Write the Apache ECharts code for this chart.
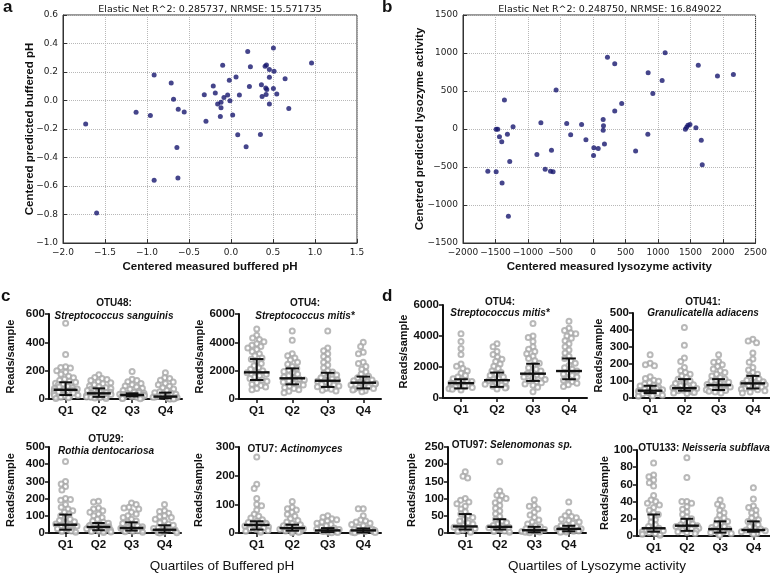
<!DOCTYPE html>
<html>
<head>
<meta charset="utf-8">
<script src="https://cdn.jsdelivr.net/npm/echarts@6/dist/echarts.min.js"></script>
<style>
  html, body { margin: 0; padding: 0; background: #fff; }
  #chart { width: 770px; height: 575px; }
</style>
</head>
<body>
<div id="chart"></div>
<script>
// ---- panel a: buffered pH ----
const phMeasured = [-1.73, -1.60, -1.13, -0.96, -0.915, -0.915, -0.712, -0.684, -0.644, -0.628, -0.632, -0.557,
  -0.318, -0.298, -0.211, -0.187, -0.159, -0.127, -0.119, -0.119, -0.099, -0.084, -0.04, -0.02, -0.012, 0.02,
  0.06, 0.08, 0.10, 0.18, 0.199, 0.219, 0.231, 0.35, 0.362, 0.37, 0.406, 0.422, 0.414, 0.426, 0.418, 0.457,
  0.457, 0.457, 0.505, 0.513, 0.505, 0.545, 0.644, 0.688, 0.959];
const phPredicted = [-0.165, -0.79, -0.083, -0.106, 0.179, -0.559, 0.123, 0.009, -0.33, -0.061, -0.544, -0.08,
  0.04, -0.146, 0.101, 0.052, -0.024, -0.113, -0.012, -0.05, 0.248, 0.021, 0.038, 0.142, -0.002, -0.101,
  0.165, -0.24, 0.038, -0.325, 0.344, 0.099, 0.236, -0.238, 0.111, 0.028, 0.241, 0.25, 0.087, 0.078, 0.042, 0.217,
  0.163, -0.024, 0.368, 0.205, 0.085, 0.045, 0.153, -0.057, 0.264];

// ---- panel b: lysozyme activity ----
const lysoMeasured = [-1618, -1490, -1465, -1490, -1439, -1404, -1399, -1363, -1317, -1281, -1302, -1230,
  -863, -802, -736, -654, -639, -614, -568, -405, -344, -176, -109, 13, 8, 80, 156, 161, 156, 176, 222, 334,
  334, 441, 655, 848, 843, 920, 1063, 1109, 1420, 1440, 1460, 1491, 1583, 1619, 1665, 1680, 1914, 2159];
const lysoPredicted = [-556, -2, -2, -564, -103, -169, -709, 380, -68, -428, -1148, 29,
  -336, 81, -529, -556, -279, -564, 512, 73, -77, 59, -143, -248, -349, -257, 124, 42, -16, -196, 943, 859,
  236, 336, -288, 739, -68, 468, 637, 1003, -2, 24, 49, 59, 15, 838, -147, -472, 696, 718];

const quartiles = ['Q1', 'Q2', 'Q3', 'Q4'];

// ---- panel c: reads/sample by quartile of buffered pH ----
const otu48Reads = [
  [535, 315, 228, 222, 218, 200, 188, 175, 160, 150, 140, 132, 125, 118, 112, 106, 100, 95, 90, 85, 80, 75, 70, 66, 62, 58, 54, 50, 46, 42, 38, 34, 30, 27, 24, 20, 16, 12, 8, 4],
  [172, 152, 145, 138, 130, 122, 115, 108, 100, 92, 86, 80, 75, 70, 65, 60, 56, 52, 48, 44, 41, 38, 35, 32, 29, 26, 23, 20, 17, 15, 12, 10, 7, 4],
  [195, 140, 130, 122, 110, 100, 92, 84, 76, 68, 60, 54, 48, 44, 40, 37, 34, 31, 29, 27, 25, 23, 21, 19, 18, 16, 14, 12, 10, 8, 6, 4, 2],
  [185, 150, 145, 132, 120, 110, 100, 90, 80, 70, 60, 52, 45, 40, 34, 29, 25, 21, 18, 16, 14, 12, 10, 8, 6, 5, 4, 3, 2, 1, 0, 0]
];
const otu48Median = [65, 40, 28, 17];
const otu48Low = [28, 15, 18, 5];
const otu48High = [118, 75, 40, 45];

const otu4PhReads = [
  [4950, 4500, 4300, 4200, 4050, 3900, 3800, 3700, 3600, 3500, 3350, 3200, 3050, 2900, 2800, 2650, 2500, 2350, 2200, 2100, 2000, 1900, 1850, 1750, 1650, 1550, 1450, 1350, 1250, 1150, 1050, 950, 850, 750, 650],
  [4800, 4150, 3200, 3050, 2900, 2750, 2600, 2450, 2300, 2150, 2050, 1950, 1850, 1750, 1650, 1550, 1480, 1420, 1350, 1280, 1200, 1120, 1050, 980, 900, 820, 740, 650, 550, 450],
  [4800, 3600, 3400, 3200, 3000, 2800, 2600, 2400, 2200, 2000, 1900, 1800, 1700, 1600, 1500, 1420, 1350, 1300, 1250, 1180, 1100, 1050, 980, 920, 860, 800, 740, 680, 620, 560],
  [4000, 3700, 3300, 3200, 2600, 2500, 2300, 2100, 1900, 1750, 1600, 1500, 1420, 1350, 1280, 1200, 1150, 1100, 1050, 980, 920, 860, 800, 750, 700, 640, 580, 520]
];
const otu4PhMedian = [1880, 1460, 1290, 1150];
const otu4PhLow = [1340, 1035, 850, 750];
const otu4PhHigh = [2820, 2160, 1850, 1580];

const otu29Reads = [
  [415, 300, 285, 270, 250, 200, 195, 190, 165, 150, 140, 130, 120, 110, 100, 90, 80, 72, 65, 58, 52, 48, 44, 40, 36, 32, 28, 24, 20, 16, 12, 8, 4],
  [185, 180, 145, 140, 130, 120, 110, 100, 90, 80, 70, 62, 56, 50, 45, 40, 36, 33, 30, 27, 24, 21, 18, 15, 12, 9, 6, 3],
  [175, 165, 150, 145, 140, 120, 110, 100, 90, 80, 70, 62, 55, 48, 42, 36, 31, 28, 25, 22, 19, 16, 13, 10, 7, 4],
  [165, 130, 125, 115, 100, 95, 90, 80, 70, 60, 52, 45, 38, 32, 26, 21, 18, 15, 12, 9, 6, 3, 1, 0]
];
const otu29Median = [48, 35, 29, 19];
const otu29Low = [19, 16, 14, 2];
const otu29High = [107, 58, 62, 45];

const otu7Reads = [
  [265, 170, 155, 120, 100, 95, 80, 65, 58, 52, 46, 41, 37, 34, 31, 28, 26, 24, 21, 18, 15, 12, 9, 6, 3],
  [110, 90, 85, 80, 72, 65, 58, 50, 44, 38, 33, 29, 25, 22, 19, 17, 15, 13, 11, 9, 7, 5, 3, 1],
  [60, 55, 50, 46, 42, 38, 34, 30, 25, 20, 17, 14, 12, 10, 9, 8, 6, 5, 4, 3, 2, 1],
  [85, 85, 60, 45, 42, 38, 34, 30, 25, 20, 16, 13, 11, 9, 8, 6, 5, 4, 3, 2, 1]
];
const otu7Median = [28, 17, 9, 9];
const otu7Low = [12, 8, 3, 2];
const otu7High = [41, 29, 17, 16];

// ---- panel d: reads/sample by quartile of lysozyme activity ----
const otu4LysoReads = [
  [4150, 3650, 3200, 2800, 2200, 2050, 1900, 1750, 1600, 1450, 1350, 1250, 1180, 1120, 1060, 1000, 960, 920, 880, 840, 800, 760, 720, 680, 640, 600, 560, 520],
  [3500, 3300, 3000, 2800, 2650, 2500, 2350, 2200, 2050, 1900, 1750, 1640, 1550, 1450, 1350, 1250, 1180, 1120, 1060, 1000, 940, 880, 820, 760, 700, 640, 580],
  [4800, 4000, 3900, 3650, 3300, 3150, 3000, 2850, 2700, 2550, 2400, 2250, 2100, 1950, 1850, 1750, 1650, 1580, 1500, 1420, 1350, 1280, 1200, 1120, 1050, 980, 900, 820, 700, 400],
  [4950, 4500, 4350, 4200, 4150, 4000, 3850, 3700, 3500, 3300, 3100, 2900, 2700, 2550, 2400, 2250, 2100, 1950, 1850, 1750, 1650, 1550, 1450, 1350, 1250, 1150, 1050, 950, 850, 750]
];
const otu4LysoMedian = [960, 1150, 1570, 1740];
const otu4LysoLow = [620, 720, 1100, 1210];
const otu4LysoHigh = [1210, 1640, 2210, 2550];

const otu41Reads = [
  [255, 205, 195, 190, 125, 115, 105, 98, 90, 82, 75, 70, 65, 60, 56, 52, 48, 45, 42, 40, 37, 34, 31, 28, 25, 22, 19, 16, 13, 10],
  [415, 310, 235, 215, 180, 160, 150, 140, 130, 120, 110, 100, 92, 85, 78, 72, 66, 60, 56, 52, 48, 45, 42, 39, 36, 33, 30, 26],
  [255, 215, 210, 195, 185, 170, 160, 150, 140, 130, 120, 112, 105, 98, 92, 86, 80, 76, 72, 68, 64, 60, 56, 52, 48, 44, 40, 35, 30],
  [345, 335, 325, 265, 230, 210, 180, 165, 150, 140, 130, 120, 112, 104, 96, 90, 86, 82, 78, 74, 70, 65, 60, 56, 52, 48, 42, 36, 30]
];
const otu41Median = [43, 58, 76, 86];
const otu41Low = [29, 43, 47, 56];
const otu41High = [72, 111, 111, 130];

const otu97Reads = [
  [178, 165, 160, 100, 95, 90, 85, 78, 70, 62, 55, 50, 45, 40, 35, 30, 26, 22, 19, 17, 15, 13, 11, 10, 8, 6, 4, 2],
  [207, 122, 110, 108, 100, 95, 88, 80, 72, 64, 56, 48, 40, 35, 30, 26, 22, 19, 17, 15, 13, 11, 10, 8, 6, 4, 2],
  [97, 80, 78, 70, 60, 52, 45, 38, 32, 26, 21, 18, 15, 12, 10, 8, 6, 5, 4, 3, 2, 1],
  [90, 60, 50, 48, 44, 40, 36, 32, 28, 24, 21, 18, 15, 13, 12, 10, 8, 6, 5, 4, 3, 2]
];
const otu97Median = [19, 18, 8, 12];
const otu97Low = [10, 10, 2, 5];
const otu97High = [55, 40, 18, 21];

const otu133Reads = [
  [85, 71, 69, 65, 62, 58, 47, 42, 40, 38, 36, 33, 30, 27, 25, 22, 19, 16, 13, 11, 9, 8, 7, 6, 5, 4, 3, 2, 1],
  [91, 68, 40, 40, 38, 34, 31, 28, 25, 22, 20, 18, 16, 14, 13, 12, 11, 10, 9, 8, 7, 6, 5, 4, 3],
  [42, 37, 35, 30, 27, 24, 21, 19, 17, 15, 13, 11, 10, 9, 8, 7, 6, 5, 4, 3, 2, 1],
  [56, 43, 35, 33, 30, 27, 24, 21, 19, 17, 15, 13, 11, 9, 8, 7, 6, 5, 5, 4, 3, 2]
];
const otu133Median = [9, 12, 8, 7];
const otu133Low = [5, 6, 4, 5];
const otu133High = [25, 20, 17, 17];

// ---------------------------------------------------------------
const ARIAL = '"Liberation Sans", Arial, sans-serif';
const MPL = '"DejaVu Sans", sans-serif';

const grids = [], xAxes = [], yAxes = [], series = [], texts = [];

const minus = (s) => s.replace('-', '\u2212');

function scatterPanel(rect, xs, ys, xr, yr, xName, yName, yGap, fmtX, fmtY) {
  const gi = grids.length;
  grids.push(Object.assign({ show: true, borderColor: '#333', borderWidth: 1, backgroundColor: '#fff' }, rect));
  const common = {
    gridIndex: gi,
    type: 'value',
    axisLine: { show: true, onZero: false, lineStyle: { color: '#333', width: 1 } },
    axisTick: { show: true, inside: true, length: 4, lineStyle: { color: '#333' } },
    splitLine: { show: true, lineStyle: { color: '#b8b8b8', type: 'dotted', width: 1 } },
    nameTextStyle: { fontFamily: ARIAL, fontWeight: 'bold', fontSize: 11.5, color: '#111' },
    nameLocation: 'middle',
    nameMoveOverlap: false
  };
  xAxes.push(Object.assign({}, common, {
    min: xr[0], max: xr[1], interval: xr[2],
    axisLabel: { fontFamily: MPL, fontSize: 9, color: '#222', margin: 5, formatter: fmtX },
    name: xName, nameGap: 18
  }));
  yAxes.push(Object.assign({}, common, {
    min: yr[0], max: yr[1], interval: yr[2],
    axisLabel: { fontFamily: MPL, fontSize: 9, color: '#222', margin: 5, formatter: fmtY },
    name: yName, nameGap: yGap, nameRotate: 90
  }));
  series.push({
    type: 'scatter', xAxisIndex: gi, yAxisIndex: gi,
    symbolSize: 5,
    itemStyle: { color: '#16166e' },
    data: xs.map((x, i) => [x, ys[i]])
  });
}

function renderErrorBar(params, api) {
  const cat = api.value(0);
  const m = api.coord([cat, api.value(1)]);
  const lo = api.coord([cat, api.value(2)]);
  const hi = api.coord([cat, api.value(3)]);
  const band = api.size([1, 0])[0];
  const mw = band * 0.36, cw = band * 0.19;
  const st = { stroke: '#111', lineWidth: 2 };
  return {
    type: 'group',
    children: [
      { type: 'line', shape: { x1: lo[0], y1: lo[1], x2: hi[0], y2: hi[1] }, style: st },
      { type: 'line', shape: { x1: m[0] - mw, y1: m[1], x2: m[0] + mw, y2: m[1] }, style: { stroke: '#111', lineWidth: 2.4 } },
      { type: 'line', shape: { x1: lo[0] - cw, y1: lo[1], x2: lo[0] + cw, y2: lo[1] }, style: st },
      { type: 'line', shape: { x1: hi[0] - cw, y1: hi[1], x2: hi[0] + cw, y2: hi[1] }, style: st }
    ]
  };
}

function dotPanel(rect, yMax, yStep, reads, med, low, high, nameGap) {
  const gi = grids.length;
  grids.push(rect);
  xAxes.push({
    gridIndex: gi, type: 'category', data: quartiles,
    jitter: 25, jitterOverlap: false, jitterMargin: 0,
    axisLine: { show: true, lineStyle: { color: '#111', width: 2 } },
    axisTick: { show: true, alignWithLabel: true, length: 4, lineStyle: { color: '#111', width: 1.5 } },
    axisLabel: { fontFamily: ARIAL, fontWeight: 'bold', fontSize: 11.5, color: '#111', margin: 6 },
    splitLine: { show: false }
  });
  yAxes.push({
    gridIndex: gi, type: 'value', min: 0, max: yMax, interval: yStep,
    axisLine: { show: true, lineStyle: { color: '#111', width: 2 } },
    axisTick: { show: true, length: 4, lineStyle: { color: '#111', width: 1.5 } },
    axisLabel: { fontFamily: ARIAL, fontWeight: 'bold', fontSize: 11.5, color: '#111', margin: 4, formatter: v => String(v) },
    splitLine: { show: false },
    name: 'Reads/sample', nameLocation: 'middle', nameRotate: 90, nameGap: nameGap, nameMoveOverlap: false,
    nameTextStyle: { fontFamily: ARIAL, fontWeight: 'bold', fontSize: 11, color: '#111' }
  });
  const pts = [];
  reads.forEach((grp, qi) => grp.forEach(v => pts.push([qi, v])));
  series.push({
    type: 'scatter', xAxisIndex: gi, yAxisIndex: gi,
    symbol: 'emptyCircle', symbolSize: 5,
    itemStyle: { color: '#a8a8a8', borderWidth: 1 },
    clip: false,
    data: pts
  });
  series.push({
    type: 'custom', xAxisIndex: gi, yAxisIndex: gi, z: 5,
    renderItem: renderErrorBar,
    encode: { x: 0, y: [1, 2, 3] },
    data: med.map((m, qi) => [qi, m, low[qi], high[qi]])
  });
}

function addText(x, y, text, font, align) {
  texts.push({
    type: 'text', x: x, y: y, z: 100,
    style: {
      text: text, font: font, fill: '#111',
      align: align || 'center', verticalAlign: 'middle',
      textAlign: align || 'center', textVerticalAlign: 'middle'
    }
  });
}
function addRich(x, y, parts) {
  texts.push({
    type: 'text', x: x, y: y, z: 100,
    style: {
      text: '{a|' + parts[0] + '}{b|' + parts[1] + '}',
      align: 'center', verticalAlign: 'middle',
      textAlign: 'center', textVerticalAlign: 'middle',
      rich: {
        a: { fontFamily: ARIAL, fontWeight: 'bold', fontSize: 10, fill: '#111', color: '#111' },
        b: { fontFamily: ARIAL, fontWeight: 'bold', fontStyle: 'italic', fontSize: 10, fill: '#111', color: '#111' }
      }
    }
  });
}

// top scatter panels
scatterPanel({ left: 63, top: 15, width: 294, height: 228 }, phMeasured, phPredicted,
  [-2, 1.5, 0.5], [-1, 0.6, 0.2],
  'Centered measured buffered pH', 'Centered predicted buffered pH', 27,
  v => minus(v.toFixed(1)), v => minus(v.toFixed(1)));
scatterPanel({ left: 463, top: 15, width: 295, height: 228 }, lysoMeasured, lysoPredicted,
  [-2000, 2500, 500], [-1500, 1500, 500],
  'Centered measured lysozyme activity', 'Cenetred predicted lysozyme activity', 37,
  v => minus(String(v)), v => minus(String(v)));

// bottom dot panels
dotPanel({ left: 49, top: 314, width: 133, height: 85 }, 600, 200, otu48Reads, otu48Median, otu48Low, otu48High, 33);
dotPanel({ left: 239, top: 314, width: 142, height: 85 }, 6000, 2000, otu4PhReads, otu4PhMedian, otu4PhLow, otu4PhHigh, 34);
dotPanel({ left: 443, top: 305, width: 144, height: 93 }, 6000, 2000, otu4LysoReads, otu4LysoMedian, otu4LysoLow, otu4LysoHigh, 34);
dotPanel({ left: 633, top: 313, width: 142, height: 85 }, 500, 100, otu41Reads, otu41Median, otu41Low, otu41High, 29);
dotPanel({ left: 49, top: 447, width: 132, height: 86 }, 500, 100, otu29Reads, otu29Median, otu29Low, otu29High, 33);
dotPanel({ left: 239, top: 447, width: 142, height: 86 }, 300, 100, otu7Reads, otu7Median, otu7Low, otu7High, 35);
dotPanel({ left: 448, top: 447, width: 138, height: 86 }, 250, 50, otu97Reads, otu97Median, otu97Low, otu97High, 31);
dotPanel({ left: 637, top: 450, width: 140, height: 86 }, 100, 20, otu133Reads, otu133Median, otu133Low, otu133High, 27);

// titles and labels
const mplTitle = '9.5px ' + MPL;
addText(210, 10, 'Elastic Net R^2: 0.285737, NRMSE: 15.571735', mplTitle);
addText(610, 10, 'Elastic Net R^2: 0.248750, NRMSE: 16.849022', mplTitle);

const letter = 'bold 17px ' + ARIAL;
addText(3, 7, 'a', letter, 'left');
addText(382, 7, 'b', letter, 'left');
addText(1, 296, 'c', letter, 'left');
addText(382, 296, 'd', letter, 'left');

const bold = 'bold 10px ' + ARIAL;
const boldIt = 'italic bold 10px ' + ARIAL;
addText(114, 303, 'OTU48:', bold);
addText(114, 316, 'Streptococcus sanguinis', boldIt);
addText(305, 303, 'OTU4:', bold);
addText(305, 316, 'Streptococcus mitis*', boldIt);
addText(500, 302, 'OTU4:', bold);
addText(500, 313, 'Streptococcus mitis*', boldIt);
addText(703, 302, 'OTU41:', bold);
addText(703, 313, 'Granulicatella adiacens', boldIt);
addText(106, 439, 'OTU29:', bold);
addText(106, 451, 'Rothia dentocariosa', boldIt);
addRich(295, 449, ['OTU7: ', 'Actinomyces']);
addRich(512, 445, ['OTU97: ', 'Selenomonas sp.']);
addRich(704, 448, ['OTU133: ', 'Neisseria subflava']);

const caption = '13.5px ' + ARIAL;
addText(222, 566, 'Quartiles of Buffered pH', caption);
addText(597, 566, 'Quartiles of Lysozyme activity', caption);

const chart = echarts.init(document.getElementById('chart'), null, { renderer: 'canvas' });
chart.setOption({
  backgroundColor: '#fff',
  animation: false,
  grid: grids,
  xAxis: xAxes,
  yAxis: yAxes,
  series: series,
  graphic: { elements: texts }
});
</script>
</body>
</html>
